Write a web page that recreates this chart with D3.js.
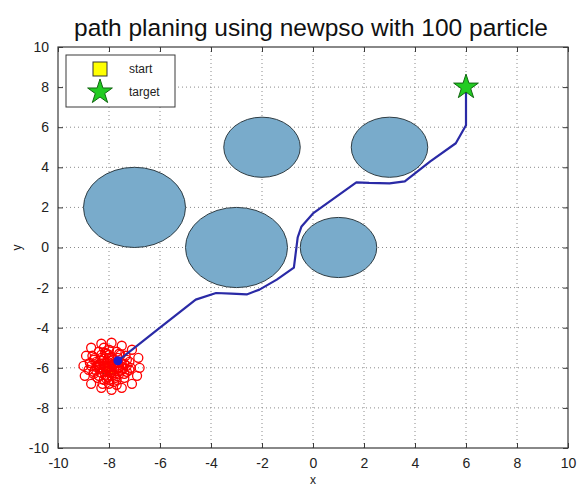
<!DOCTYPE html>
<html>
<head>
<meta charset="utf-8">
<script src="https://cdn.jsdelivr.net/npm/d3@7"></script>
<style>
  html, body { margin: 0; padding: 0; background: #fff; }
  svg { display: block; font-family: "Liberation Sans", Arial, sans-serif; }
</style>
</head>
<body>
<svg id="chart" width="577" height="486"></svg>
<script>
// Axis ticks
const xTicks = [-10, -8, -6, -4, -2, 0, 2, 4, 6, 8, 10];
const yTicks = [-10, -8, -6, -4, -2, 0, 2, 4, 6, 8, 10];

// Circular obstacles: centre x, centre y, radius
const obstacleX = [-7, -3, -2, 3, 1];
const obstacleY = [2, 0, 5, 5, 0];
const obstacleR = [2, 2, 1.5, 1.5, 1.5];

// Start and target
const startPoint = [-8, -6];
const targetPoint = [6, 8];

// Best path found by the swarm
const pathX = [-7.65, -6.0, -4.6, -3.8, -3.2, -2.6, -2.1, -1.42, -0.75, -0.7, -0.6, -0.45, 0.0, 1.7, 2.2, 3.0, 3.6, 4.6, 5.6, 6.0, 6.0];
const pathY = [-5.65, -4.0, -2.6, -2.27, -2.3, -2.34, -2.1, -1.6, -1.0, -0.5, 0.5, 1.05, 1.7, 3.25, 3.22, 3.2, 3.3, 4.3, 5.2, 6.1, 8.0];

// Particle positions around the start
const particleX = [-9.0, -8.9, -8.7, -8.3, -7.9, -7.5, -7.1, -6.85, -6.8, -6.9, -7.1, -7.5, -7.9, -8.3, -8.7, -8.95,
  -8.6, -8.4, -8.0, -7.6, -7.3, -7.2, -7.4, -7.8, -8.2, -8.6, -8.7,
  -8.2, -8.0, -7.7, -7.8, -8.1, -8.4, -7.6, -8.0, -7.9, -8.3, -7.5, -8.5, -8.1, -7.7, -8.4, -7.6, -8.0, -7.3,
  -8.8, -8.2, -7.4, -7.95, -8.15, -7.85, -8.35, -7.65, -8.05, -8.55, -7.35, -8.65, -7.2, -8.25, -7.7,
  -8.05, -7.95, -8.1, -7.9, -8.0, -8.2, -7.8, -8.3, -7.7, -8.45, -7.55, -8.15, -7.85, -8.25, -7.75,
  -8.0, -8.35, -7.65, -8.5, -7.45, -8.1, -7.9, -8.6, -7.4, -8.3, -7.7, -8.2, -7.8, -8.05, -7.95,
  -8.4, -7.6, -8.55, -7.3, -8.75, -7.15, -8.0, -8.45, -7.55, -8.15];
const particleY = [-5.9, -5.4, -5.0, -4.8, -4.75, -4.9, -5.1, -5.5, -6.0, -6.4, -6.8, -7.0, -7.1, -7.0, -6.8, -6.4,
  -5.6, -5.2, -5.1, -5.3, -5.6, -6.1, -6.5, -6.7, -6.6, -6.3, -5.9,
  -5.8, -5.5, -5.7, -6.1, -6.2, -6.0, -6.0, -5.9, -6.4, -5.5, -5.8, -5.7, -5.3, -5.2, -6.4, -6.3, -6.8, -5.9,
  -6.1, -5.0, -6.3, -5.65, -6.0, -5.85, -5.8, -5.5, -6.45, -6.1, -5.4, -5.4, -5.7, -6.8, -6.85,
  -6.0, -5.95, -5.75, -6.2, -6.1, -5.9, -5.8, -6.25, -6.05, -5.85, -6.15, -6.35, -5.6, -5.65, -6.5,
  -5.35, -6.05, -5.75, -5.95, -6.05, -6.55, -5.45, -6.2, -5.8, -5.35, -6.6, -5.55, -6.35, -5.7, -6.25,
  -5.85, -5.95, -5.5, -6.2, -5.75, -6.0, -6.6, -6.5, -5.35, -5.25];

const legendLabels = ["start", "target"];
const titleText = "path planing using newpso with 100 particle";

const svg = d3.select("#chart");
const plotLeft = 58, plotRight = 568, plotTop = 47, plotBottom = 448;

const x = d3.scaleLinear().domain([-10, 10]).range([plotLeft, plotRight]);
const y = d3.scaleLinear().domain([-10, 10]).range([plotBottom, plotTop]);

// Dotted grid
const grid = svg.append("g").attr("stroke", "#8a8a8a").attr("stroke-width", 1).attr("stroke-dasharray", "1,3");
grid.selectAll("line.gx").data(xTicks.slice(1, -1)).join("line").attr("class", "gx")
  .attr("x1", d => x(d)).attr("x2", d => x(d)).attr("y1", plotTop).attr("y2", plotBottom);
grid.selectAll("line.gy").data(yTicks.slice(1, -1)).join("line").attr("class", "gy")
  .attr("y1", d => y(d)).attr("y2", d => y(d)).attr("x1", plotLeft).attr("x2", plotRight);

// Obstacles
const obstacles = obstacleX.map((cx, i) => ({cx, cy: obstacleY[i], r: obstacleR[i]}));
svg.append("g").selectAll("ellipse").data(obstacles).join("ellipse")
  .attr("cx", d => x(d.cx)).attr("cy", d => y(d.cy))
  .attr("rx", d => x(d.r) - x(0)).attr("ry", d => y(0) - y(d.r))
  .attr("fill", "#79abcb").attr("stroke", "#2f3d44").attr("stroke-width", 1);

// Start marker (beneath the particles)
svg.append("rect")
  .attr("x", x(startPoint[0]) - 6).attr("y", y(startPoint[1]) - 6)
  .attr("width", 12).attr("height", 12)
  .attr("fill", "#ffff00").attr("stroke", "#333");

// Particles
const particles = particleX.map((px, i) => [px, particleY[i]]);
svg.append("g").selectAll("circle").data(particles).join("circle")
  .attr("cx", d => x(d[0])).attr("cy", d => y(d[1])).attr("r", 4.5)
  .attr("fill", "none").attr("stroke", "#ff0000").attr("stroke-width", 1.3);

// Path
const pathPts = pathX.map((px, i) => [px, pathY[i]]);
svg.append("path").datum(pathPts)
  .attr("d", d3.line().x(d => x(d[0])).y(d => y(d[1])))
  .attr("fill", "none").attr("stroke", "#2a2aa6").attr("stroke-width", 2.2)
  .attr("stroke-linejoin", "round");
svg.append("circle")
  .attr("cx", x(pathX[0])).attr("cy", y(pathY[0])).attr("r", 4.5)
  .attr("fill", "#1f1fd0");

// Star symbol
const star = d3.symbol().type(d3.symbolStar);
svg.append("path")
  .attr("d", star.size(190)())
  .attr("transform", `translate(${x(targetPoint[0])},${y(targetPoint[1])})`)
  .attr("fill", "#22cc22").attr("stroke", "#116611").attr("stroke-width", 1);

// Frame
svg.append("rect").attr("x", plotLeft).attr("y", plotTop).attr("width", plotRight - plotLeft).attr("height", plotBottom - plotTop)
  .attr("fill", "none").attr("stroke", "#3a3a3a").attr("stroke-width", 1.2);

// Axes with inward ticks
const fmt = d => String(d);
const axB = d3.axisBottom(x).tickValues(xTicks).tickFormat(fmt).tickSizeInner(-5).tickSizeOuter(0).tickPadding(10);
const axL = d3.axisLeft(y).tickValues(yTicks).tickFormat(fmt).tickSizeInner(-5).tickSizeOuter(0).tickPadding(9);
const axT = d3.axisTop(x).tickValues(xTicks).tickSizeInner(-5).tickSizeOuter(0).tickFormat("");
const axR = d3.axisRight(y).tickValues(yTicks).tickSizeInner(-5).tickSizeOuter(0).tickFormat("");
function styleAxis(g) {
  g.select(".domain").remove();
  g.selectAll(".tick line").attr("stroke", "#3a3a3a");
  g.selectAll(".tick text").attr("fill", "#222").style("font-size", "14px")
    .style("font-family", "'Liberation Sans', Arial, sans-serif");
}
svg.append("g").attr("transform", `translate(0,${plotBottom})`).call(axB).call(styleAxis);
svg.append("g").attr("transform", `translate(${plotLeft},0)`).call(axL).call(styleAxis);
svg.append("g").attr("transform", `translate(0,${plotTop})`).call(axT).call(styleAxis);
svg.append("g").attr("transform", `translate(${plotRight},0)`).call(axR).call(styleAxis);

// Axis labels
svg.append("text").attr("x", x(0)).attr("y", 484).attr("text-anchor", "middle")
  .style("font-size", "12px").attr("fill", "#222").text("x");
svg.append("text").attr("transform", `translate(21,${y(0)}) rotate(-90)`).attr("text-anchor", "middle")
  .style("font-size", "12px").attr("fill", "#222").text("y");

// Title
svg.append("text").attr("x", (plotLeft + plotRight) / 2 - 2).attr("y", 36).attr("text-anchor", "middle")
  .style("font-size", "24.5px").attr("fill", "#111").text(titleText);

// Legend
const lg = svg.append("g");
lg.append("rect").attr("x", 66).attr("y", 55).attr("width", 109).attr("height", 52)
  .attr("fill", "#fff").attr("stroke", "#3a3a3a");
lg.append("rect").attr("x", 93).attr("y", 62).attr("width", 14).attr("height", 14)
  .attr("fill", "#ffff00").attr("stroke", "#333");
lg.append("path").attr("d", star.size(190)()).attr("transform", "translate(100,92)")
  .attr("fill", "#22cc22").attr("stroke", "#116611");
lg.selectAll("text").data(legendLabels).join("text")
  .attr("x", 129).attr("y", (d, i) => 73 + i * 23)
  .style("font-size", "12px").attr("fill", "#222").text(d => d);
</script>
</body>
</html>
